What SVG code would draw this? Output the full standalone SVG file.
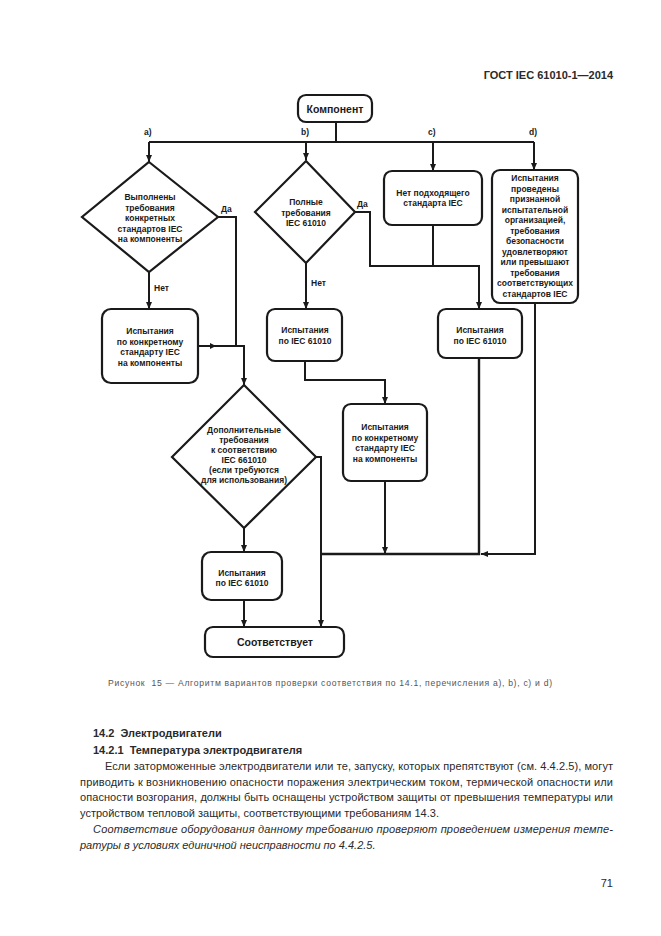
<svg xmlns="http://www.w3.org/2000/svg" width="661" height="936" viewBox="0 0 661 936">
<defs>
<marker id="arr" markerUnits="userSpaceOnUse" markerWidth="8" markerHeight="8" viewBox="0 0 8 8" refX="7" refY="4" orient="auto">
<path d="M0,1 L7,4 L0,7 z" fill="#1a1a1a"/>
</marker>
</defs>
<style>
.box{fill:#fff;stroke:#1a1a1a;stroke-width:2.2}
.ln{fill:none;stroke:#1a1a1a;stroke-width:2}
.t{font-family:"Liberation Sans",Arial,sans-serif;font-weight:bold;font-size:8.5px;fill:#1a1a1a;text-anchor:middle}
.big{font-size:10.5px}
.lbl{font-family:"Liberation Sans",Arial,sans-serif;font-weight:bold;font-size:8.5px;fill:#1a1a1a}
.body{font-family:"Liberation Sans",Arial,sans-serif;font-size:11px;fill:#2a2a2a}
.hd{font-family:"Liberation Sans",Arial,sans-serif;font-size:11px;font-weight:bold;fill:#2a2a2a;white-space:pre}
.it{font-style:italic}
</style>
<rect width="661" height="936" fill="#fff"/>

<text class="hd" x="613" y="79" text-anchor="end" font-size="11.5">ГОСТ IEC 61010-1—2014</text>

<g id="connectors">
<path class="ln" d="M336,122 V142"/>
<path class="ln" d="M149,142 H534"/>
<path class="ln" d="M149,142 V162" marker-end="url(#arr)"/>
<path class="ln" d="M306,142 V160" marker-end="url(#arr)"/>
<path class="ln" d="M433,142 V171" marker-end="url(#arr)"/>
<path class="ln" d="M534,142 V170" marker-end="url(#arr)"/>
<path class="ln" d="M149,272 V309" marker-end="url(#arr)"/>
<path class="ln" d="M218,217 H236 V346"/>
<path class="ln" d="M198,346 H244 V385" marker-end="url(#arr)"/>
<path d="M210,343 L216,346 L210,349 z" fill="#1a1a1a"/>
<path class="ln" d="M306,263 V309" marker-end="url(#arr)"/>
<path class="ln" d="M355,212 H370 V266 H479 V309" marker-end="url(#arr)"/>
<path class="ln" d="M433,225 V266"/>
<path class="ln" d="M305,361 V380 H385 V404" marker-end="url(#arr)"/>
<path class="ln" d="M385,481 V554" marker-end="url(#arr)"/>
<path class="ln" d="M535,303 V554 H481" marker-end="url(#arr)"/>
<path class="ln" d="M479,358 V554 H321" style="stroke-width:2.4"/>
<path class="ln" d="M316,457 H321 V627" marker-end="url(#arr)"/>
<path class="ln" d="M244,528 V552" marker-end="url(#arr)"/>
<path class="ln" d="M244,600 V627" marker-end="url(#arr)"/>
<text class="lbl" x="144" y="135">a)</text>
<text class="lbl" x="301" y="135">b)</text>
<text class="lbl" x="428" y="135">c)</text>
<text class="lbl" x="529" y="135">d)</text>
<text class="lbl" x="154" y="291">Нет</text>
<text class="lbl" x="221" y="212">Да</text>
<text class="lbl" x="311" y="286">Нет</text>
<text class="lbl" x="357" y="207">Да</text>
</g>

<g id="component">
<rect class="box" x="298" y="95" width="74" height="27" rx="8"/>
<text class="t big" x="335" y="113">Компонент</text>
</g>

<g id="decision-a">
<polygon class="box" points="149,162 218,217 149,272 82,217"/>
<text class="t" x="150" y="200">Выполнены</text>
<text class="t" x="150" y="210.5">требования</text>
<text class="t" x="150" y="221">конкретных</text>
<text class="t" x="150" y="231.5">стандартов IEC</text>
<text class="t" x="150" y="242">на компоненты</text>
</g>

<g id="decision-b">
<polygon class="box" points="306,161 355,212 306,263 255,212"/>
<text class="t" x="306" y="205">Полные</text>
<text class="t" x="306" y="215.5">требования</text>
<text class="t" x="306" y="226">IEC 61010</text>
</g>

<g id="box-c">
<rect class="box" x="384" y="171" width="98" height="54" rx="8"/>
<text class="t" x="433" y="196">Нет подходящего</text>
<text class="t" x="433" y="206">стандарта IEC</text>
</g>

<g id="box-d">
<rect class="box" x="492" y="170" width="86" height="133" rx="8"/>
<text class="t" x="535" y="181">Испытания</text>
<text class="t" x="535" y="191.5">проведены</text>
<text class="t" x="535" y="202">признанной</text>
<text class="t" x="535" y="212.5">испытательной</text>
<text class="t" x="535" y="223">организацией,</text>
<text class="t" x="535" y="233.5">требования</text>
<text class="t" x="535" y="244">безопасности</text>
<text class="t" x="535" y="254.5">удовлетворяют</text>
<text class="t" x="535" y="265">или превышают</text>
<text class="t" x="535" y="275.5">требования</text>
<text class="t" x="535" y="286">соответствующих</text>
<text class="t" x="535" y="296.5">стандартов IEC</text>
</g>

<g id="test-a">
<rect class="box" x="102" y="309" width="96" height="74" rx="9"/>
<text class="t" x="150" y="334">Испытания</text>
<text class="t" x="150" y="344.5">по конкретному</text>
<text class="t" x="150" y="355">стандарту IEC</text>
<text class="t" x="150" y="365.5">на компоненты</text>
</g>

<g id="test-b">
<rect class="box" x="267" y="309" width="75" height="52" rx="8"/>
<text class="t" x="305" y="333">Испытания</text>
<text class="t" x="305" y="343.5">по IEC 61010</text>
</g>

<g id="test-cd">
<rect class="box" x="438" y="309" width="84" height="49" rx="8"/>
<text class="t" x="480" y="333">Испытания</text>
<text class="t" x="480" y="343.5">по IEC 61010</text>
</g>

<g id="test-b2">
<rect class="box" x="343" y="404" width="84" height="77" rx="8"/>
<text class="t" x="385" y="430">Испытания</text>
<text class="t" x="385" y="440.5">по конкретному</text>
<text class="t" x="385" y="451">стандарту IEC</text>
<text class="t" x="385" y="461.5">на компоненты</text>
</g>

<g id="decision-main">
<polygon class="box" points="244,385 316,457 244,528 172,457"/>
<text class="t" x="244" y="433">Дополнительные</text>
<text class="t" x="244" y="443">требования</text>
<text class="t" x="244" y="453">к соответствию</text>
<text class="t" x="244" y="463">IEC 661010</text>
<text class="t" x="244" y="473">(если требуются</text>
<text class="t" x="244" y="483">для использования)</text>
</g>

<g id="test-main">
<rect class="box" x="202" y="552" width="80" height="48" rx="9"/>
<text class="t" x="242" y="576">Испытания</text>
<text class="t" x="242" y="586">по IEC 61010</text>
</g>

<g id="result">
<rect class="box" x="205" y="627" width="139" height="30" rx="8"/>
<text class="t big" x="275" y="646">Соответствует</text>
</g>

<text x="108" y="686" font-family="Liberation Sans, Arial, sans-serif" font-size="8.6" fill="#555" textLength="444" lengthAdjust="spacing" style="white-space:pre">Рисунок  15 — Алгоритм вариантов проверки соответствия по 14.1, перечисления a), b), c) и d)</text>

<text class="hd" x="93" y="737">14.2  Электродвигатели</text>
<text class="hd" x="93" y="754">14.2.1  Температура электродвигателя</text>
<text class="body" x="105" y="770" textLength="508" lengthAdjust="spacing">Если заторможенные электродвигатели или те, запуску, которых препятствуют (см. 4.4.2.5), могут</text>
<text class="body" x="80" y="786" textLength="533" lengthAdjust="spacing">приводить к возникновению опасности поражения электрическим током, термической опасности или</text>
<text class="body" x="80" y="801" textLength="533" lengthAdjust="spacing">опасности возгорания, должны быть оснащены устройством защиты от превышения температуры или</text>
<text class="body" x="80" y="817">устройством тепловой защиты, соответствующими требованиям 14.3.</text>
<text class="body it" x="93" y="833" textLength="520" lengthAdjust="spacing">Соответствие оборудования данному требованию проверяют проведением измерения темпе-</text>
<text class="body it" x="80" y="849">ратуры в условиях единичной неисправности по 4.4.2.5.</text>
<text class="body" x="613" y="887" text-anchor="end">71</text>
</svg>
